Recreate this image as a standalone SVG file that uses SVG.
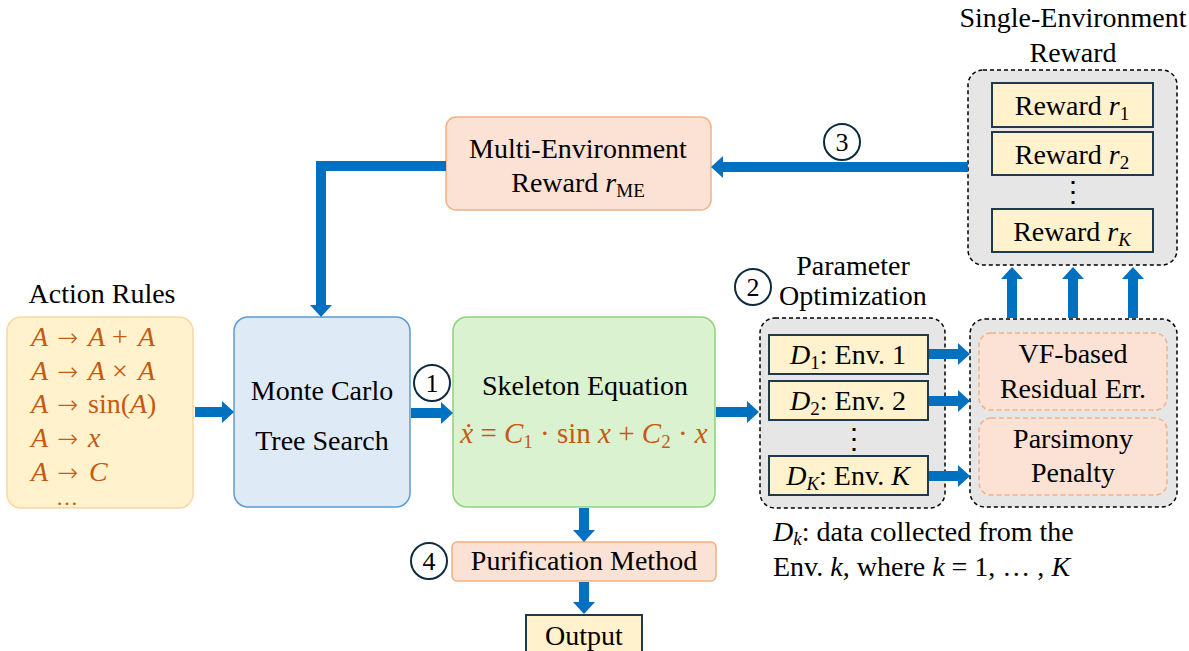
<svg xmlns="http://www.w3.org/2000/svg" width="1189" height="651" viewBox="0 0 1189 651">
<style>
text{font-family:"Liberation Serif","Times New Roman",serif;fill:#000;font-size:28px}
.c{text-anchor:middle}
.m{fill:#C55A11;font-size:28px}
.i{font-style:italic}
.ar{font-family:"DejaVu Sans",sans-serif;font-size:25px;font-weight:200}
.sub{font-size:19px}
.blue{fill:none;stroke:#0070C0;stroke-width:10}
.grp{fill:#E7E6E6;stroke:#000;stroke-width:1.5;stroke-dasharray:4 3}
.yb{fill:#FFF2CC;stroke:#1F3A4B;stroke-width:2}
.pk{fill:#FBE2D5;stroke:#F4B183;stroke-width:1.5}
.pkd{fill:#FBE2D5;stroke:#F4B183;stroke-width:1.5;stroke-dasharray:5 3}
.num{fill:#fff;stroke:#0D2B3E;stroke-width:2}
.nt{font-size:26px;text-anchor:middle}
</style>
<defs>
<marker id="ah" markerUnits="userSpaceOnUse" viewBox="0 0 12 22" refX="0" refY="11" markerWidth="12" markerHeight="22" orient="auto">
<path d="M0,0 L12,11 L0,22 Z" fill="#0070C0"/>
</marker>
</defs>

<g id="action-rules">
<text class="c" x="102" y="303">Action Rules</text>
<rect x="7" y="317" width="186" height="191" rx="14" fill="#FFF2CC" stroke="#F8D8A8" stroke-width="1.5"/>
<text class="m" y="346"><tspan class="i" x="31">A</tspan><tspan class="ar" x="57">→</tspan><tspan class="i" x="88">A</tspan><tspan x="112">+</tspan><tspan class="i" x="138">A</tspan></text>
<text class="m" y="380"><tspan class="i" x="31">A</tspan><tspan class="ar" x="57">→</tspan><tspan class="i" x="88">A</tspan><tspan x="112">×</tspan><tspan class="i" x="138">A</tspan></text>
<text class="m" y="413"><tspan class="i" x="31">A</tspan><tspan class="ar" x="57">→</tspan><tspan x="88">sin(</tspan><tspan class="i">A</tspan>)</text>
<text class="m" y="447"><tspan class="i" x="31">A</tspan><tspan class="ar" x="57">→</tspan><tspan class="i" x="88">x</tspan></text>
<text class="m" y="481"><tspan class="i" x="31">A</tspan><tspan class="ar" x="57">→</tspan><tspan class="i" x="89">C</tspan></text>
<text class="m" x="56" y="505" style="font-size:22px">…</text>
</g>

<g id="mcts">
<rect x="234" y="317" width="176" height="190" rx="14" fill="#DEEBF7" stroke="#5B9BD5" stroke-width="1.5"/>
<text class="c" x="322" y="400">Monte Carlo</text>
<text class="c" x="322" y="450">Tree Search</text>
</g>

<g id="skeleton">
<rect x="453" y="317" width="262" height="190" rx="14" fill="#DAF2D0" stroke="#8FD47A" stroke-width="1.5"/>
<text class="c" x="585" y="395">Skeleton Equation</text>
<text class="m c" x="584" y="443" style="font-size:29px"><tspan class="i">ẋ</tspan> = <tspan class="i">C</tspan><tspan class="sub" dy="5">1</tspan><tspan dy="-5"> · sin </tspan><tspan class="i">x</tspan> + <tspan class="i">C</tspan><tspan class="sub" dy="5">2</tspan><tspan dy="-5"> · </tspan><tspan class="i">x</tspan></text>
</g>

<g id="multi-env-reward">
<rect x="446" y="117" width="265" height="93" rx="10" class="pk"/>
<text class="c" x="578" y="158">Multi-Environment</text>
<text class="c" x="578" y="192">Reward <tspan class="i">r</tspan><tspan class="sub" dy="5">ME</tspan></text>
</g>

<g id="param-opt">
<text class="c" x="853" y="275">Parameter</text>
<text class="c" x="853" y="305">Optimization</text>
<rect x="760" y="318" width="185" height="190" rx="15" class="grp"/>
<rect x="769" y="335" width="159" height="39" class="yb"/>
<text class="c" x="848" y="364"><tspan class="i">D</tspan><tspan class="sub" dy="5">1</tspan><tspan dy="-5">: Env. 1</tspan></text>
<rect x="769" y="381" width="159" height="39" class="yb"/>
<text class="c" x="848" y="410"><tspan class="i">D</tspan><tspan class="sub" dy="5">2</tspan><tspan dy="-5">: Env. 2</tspan></text>
<text class="c" x="854" y="448">⋮</text>
<rect x="769" y="456" width="159" height="39" class="yb"/>
<text class="c" x="848" y="485"><tspan class="i">D</tspan><tspan class="sub i" dy="5">K</tspan><tspan dy="-5">: Env. </tspan><tspan class="i">K</tspan></text>
</g>

<g id="loss">
<rect x="970" y="319" width="207" height="188" rx="15" class="grp"/>
<rect x="979" y="333" width="188" height="77" rx="12" class="pkd"/>
<text class="c" x="1073" y="363">VF-based</text>
<text class="c" x="1073" y="398">Residual Err.</text>
<rect x="979" y="418" width="188" height="77" rx="12" class="pkd"/>
<text class="c" x="1073" y="448">Parsimony</text>
<text class="c" x="1073" y="482">Penalty</text>
</g>

<g id="single-env-reward">
<text class="c" x="1073" y="27">Single-Environment</text>
<text class="c" x="1073" y="62">Reward</text>
<rect x="968" y="70" width="209" height="195" rx="15" class="grp"/>
<rect x="992" y="83" width="161" height="44" class="yb"/>
<text class="c" x="1072" y="115">Reward <tspan class="i">r</tspan><tspan class="sub" dy="5">1</tspan></text>
<rect x="992" y="132" width="161" height="43" class="yb"/>
<text class="c" x="1072" y="164">Reward <tspan class="i">r</tspan><tspan class="sub" dy="5">2</tspan></text>
<text class="c" x="1073" y="201">⋮</text>
<rect x="992" y="209" width="161" height="43" class="yb"/>
<text class="c" x="1072" y="241">Reward <tspan class="i">r</tspan><tspan class="sub i" dy="5">K</tspan></text>
</g>

<g id="purification">
<rect x="452" y="542" width="264" height="39" rx="5" class="pk"/>
<text class="c" x="584" y="570">Purification Method</text>
</g>

<g id="output">
<rect x="526" y="615" width="116" height="50" fill="#FFF2CC" stroke="#1F3A4B" stroke-width="2"/>
<text class="c" x="584" y="645">Output</text>
</g>

<g id="note">
<text x="773" y="541"><tspan class="i">D</tspan><tspan class="sub i" dy="4">k</tspan><tspan dy="-4">: data collected from the</tspan></text>
<text x="773" y="576">Env. <tspan class="i">k</tspan>, where <tspan class="i">k</tspan> = 1, … , <tspan class="i">K</tspan></text>
</g>

<g id="step-numbers">
<circle cx="432" cy="383" r="18" class="num"/><text class="nt" x="432" y="392">1</text>
<circle cx="753" cy="287" r="18" class="num"/><text class="nt" x="753" y="296">2</text>
<circle cx="842" cy="142" r="18" class="num"/><text class="nt" x="842" y="151">3</text>
<circle cx="429" cy="561" r="18" class="num"/><text class="nt" x="429" y="570">4</text>
</g>

<g id="connectors">
<path class="blue" d="M195,412 H222" marker-end="url(#ah)"/>
<path class="blue" d="M411,413 H441" marker-end="url(#ah)"/>
<path class="blue" d="M716,412 H747" marker-end="url(#ah)"/>
<path class="blue" d="M446,166 H321 V305" marker-end="url(#ah)"/>
<path class="blue" d="M968,167 H723" marker-end="url(#ah)"/>
<path class="blue" d="M929,354 H958" marker-end="url(#ah)"/>
<path class="blue" d="M929,401 H958" marker-end="url(#ah)"/>
<path class="blue" d="M929,476 H958" marker-end="url(#ah)"/>
<path class="blue" d="M1012,318 V279" marker-end="url(#ah)"/>
<path class="blue" d="M1073,318 V279" marker-end="url(#ah)"/>
<path class="blue" d="M1133,318 V279" marker-end="url(#ah)"/>
<path class="blue" d="M584,508 V530" marker-end="url(#ah)"/>
<path class="blue" d="M584,582 V602" marker-end="url(#ah)"/>
</g>
</svg>
